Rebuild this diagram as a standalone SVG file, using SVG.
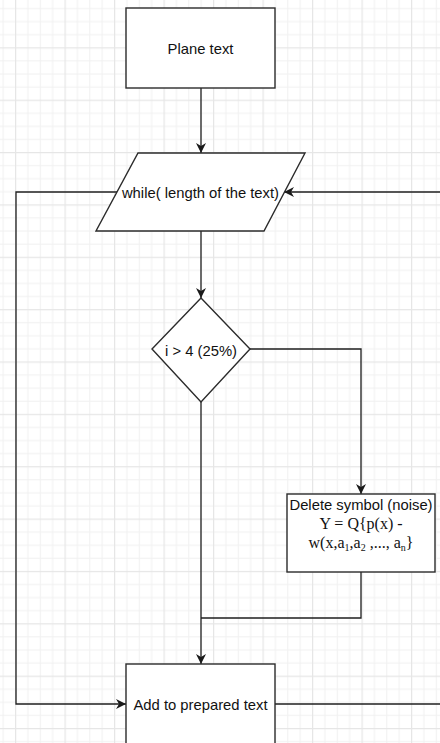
<svg xmlns="http://www.w3.org/2000/svg" width="440" height="743" viewBox="0 0 440 743">
<defs>
<pattern id="grid" patternUnits="userSpaceOnUse" x="15" y="47.3" width="49.5" height="52.36">
<rect x="0" y="0" width="49.5" height="52.36" fill="#ffffff"/>
<g fill="#f1f1f1">
<rect x="12.375" y="0" width="1" height="52.36"/>
<rect x="24.75" y="0" width="1" height="52.36"/>
<rect x="37.125" y="0" width="1" height="52.36"/>
<rect x="0" y="13.09" width="49.5" height="1"/>
<rect x="0" y="26.18" width="49.5" height="1"/>
<rect x="0" y="39.27" width="49.5" height="1"/>
</g>
<g fill="#e6e6e6">
<rect x="0" y="0" width="1.2" height="52.36"/>
<rect x="0" y="0" width="49.5" height="1.2"/>
</g>
</pattern>
<marker id="arr" viewBox="0 0 10 10" refX="10" refY="5" markerWidth="10" markerHeight="10" markerUnits="userSpaceOnUse" orient="auto">
<path d="M0,0 L10,5 L0,10 L3,5 Z" fill="#1a1a1a"/>
</marker>
</defs>
<style>
.shape{fill:#ffffff;stroke:#2b2b2b;stroke-width:1.4}
.edge{fill:none;stroke:#1f1f1f;stroke-width:1.3}
.lbl{font-family:"Liberation Sans",Arial,sans-serif;font-size:14.8px;fill:#111;text-anchor:middle}
.serif{font-family:"Liberation Serif","Times New Roman",serif;font-size:16px;fill:#111;text-anchor:middle}
.sub{font-size:10px}
</style>
<rect x="0" y="0" width="440" height="743" fill="url(#grid)"/>
<g id="connectors">
<path class="edge" d="M201,88 L201,153" marker-end="url(#arr)"/>
<path class="edge" d="M440,192 L284,192" marker-end="url(#arr)"/>
<path class="edge" d="M117,192 L16,192 L16,704 L126,704" marker-end="url(#arr)"/>
<path class="edge" d="M201,231 L201,298" marker-end="url(#arr)"/>
<path class="edge" d="M250,349 L361,349 L361,494" marker-end="url(#arr)"/>
<path class="edge" d="M201,402 L201,664" marker-end="url(#arr)"/>
<path class="edge" d="M361,572 L361,618 L201,618"/>
<path class="edge" d="M275,704 L440,704"/>
</g>
<g id="plane-text">
<rect class="shape" x="126" y="8" width="149" height="80"/>
<text class="lbl" x="200.5" y="54">Plane text</text>
</g>
<g id="while-loop">
<polygon class="shape" points="138,153 305,153 264,231 96,231"/>
<text class="lbl" x="200.5" y="198">while( length of the text)</text>
</g>
<g id="condition">
<polygon class="shape" points="201,298 250,349 201,402 152,349"/>
<text class="lbl" x="201" y="356">i &gt; 4 (25%)</text>
</g>
<g id="delete-symbol">
<rect class="shape" x="287" y="494" width="148" height="78"/>
<text class="lbl" x="361" y="510">Delete symbol (noise)</text>
<text class="serif" x="361" y="529">Y = Q{p(x) -</text>
<text class="serif" x="361" y="548">w(x,a<tspan class="sub" dy="3">1</tspan><tspan dy="-3">,a</tspan><tspan class="sub" dy="3">2</tspan><tspan dy="-3"> ,..., a</tspan><tspan class="sub" dy="3">n</tspan><tspan dy="-3">}</tspan></text>
</g>
<g id="add-prepared">
<rect class="shape" x="126" y="664" width="149" height="80"/>
<text class="lbl" x="200.5" y="710">Add to prepared text</text>
</g>
</svg>
